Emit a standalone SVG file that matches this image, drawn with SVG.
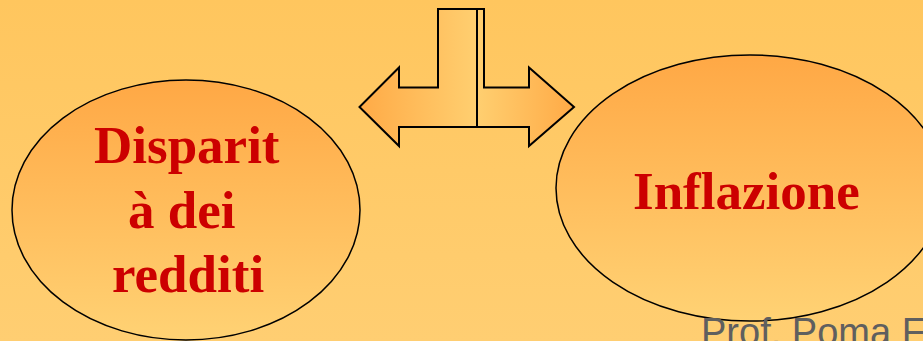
<svg xmlns="http://www.w3.org/2000/svg" width="923" height="341" viewBox="0 0 923 341">
<defs>
<linearGradient id="bg" x1="0" y1="0" x2="0" y2="1">
<stop offset="0" stop-color="#FFC65E"/>
<stop offset="1" stop-color="#FFCE72"/>
</linearGradient>
<linearGradient id="ell" x1="0" y1="0" x2="0" y2="1">
<stop offset="0" stop-color="#FFA845"/>
<stop offset="1" stop-color="#FFD274"/>
</linearGradient>
<linearGradient id="arrL" gradientUnits="userSpaceOnUse" x1="359" y1="0" x2="477" y2="0">
<stop offset="0" stop-color="#FFAA46"/>
<stop offset="1" stop-color="#FFCF70"/>
</linearGradient>
<linearGradient id="arrR" gradientUnits="userSpaceOnUse" x1="477" y1="0" x2="574" y2="0">
<stop offset="0" stop-color="#FFCF70"/>
<stop offset="1" stop-color="#FFAA46"/>
</linearGradient>
</defs>
<style>
.node ellipse{fill:url(#ell);stroke:#000;stroke-width:1.5}
.lbl{font-family:"Liberation Serif","Times New Roman",serif;font-weight:bold;font-size:53px;fill:#CC0000}
.arrow{stroke:#000;stroke-width:2;stroke-linejoin:miter}
.footer{font-family:"Liberation Sans",Arial,sans-serif;font-size:38px;fill:#5F5F5F}
</style>
<rect width="923" height="341" fill="url(#bg)"/>
<g id="connectors">
<polygon class="arrow" fill="url(#arrL)" points="438,9 477,9 477,127 399,127 399,146 359.5,107 399,67.5 399,87.5 438,87.5"/>
<polygon class="arrow" fill="url(#arrR)" points="477,9 484,9 484,87.5 529,87.5 529,67.5 574,107 529,146 529,127 477,127"/>
</g>
<g id="node-disparita" class="node">
<ellipse cx="186" cy="210" rx="174" ry="130"/>
<text class="lbl" x="94" y="163">Disparit</text>
<text class="lbl" x="128" y="228">à dei</text>
<text class="lbl" x="112" y="292">redditi</text>
</g>
<g id="node-inflazione" class="node">
<ellipse cx="750" cy="188" rx="194" ry="133"/>
<text class="lbl" x="633" y="209">Inflazione</text>
</g>
<text class="footer" x="701" y="345">Prof. Poma F</text>
</svg>
